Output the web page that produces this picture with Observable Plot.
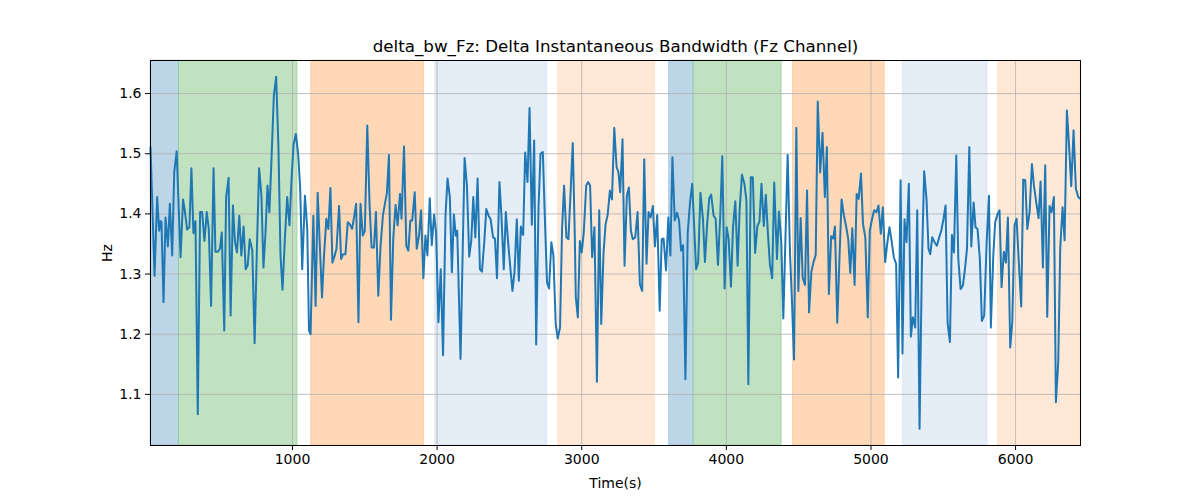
<!DOCTYPE html>
<html>
<head>
<meta charset="utf-8">
<script src="https://cdn.jsdelivr.net/npm/d3@7"></script>
<script src="https://cdn.jsdelivr.net/npm/@observablehq/plot@0.6"></script>
<style>
  html, body { margin: 0; padding: 0; background: #fff; }
  #chart { width: 1200px; height: 500px; }
</style>
</head>
<body>
<div id="chart"></div>
<script>
const titleText = "delta_bw_Fz: Delta Instantaneous Bandwidth (Fz Channel)";
const xLabel = "Time(s)";
const yLabel = "Hz";
const xTicks = [1000, 2000, 3000, 4000, 5000, 6000];
const yTicks = [1.1, 1.2, 1.3, 1.4, 1.5, 1.6];
const xDomain = [18, 6449];
const yDomain = [1.015, 1.655];

const spanStart = [18, 215, 1129, 1986, 2837, 3604, 3775, 4461, 5221, 5878];
const spanEnd   = [215, 1035, 1910, 2761, 3507, 3775, 4383, 5095, 5807, 6449];
const spanColor = ["#bcd6e8", "#c0e2c0", "#ffd9b7", "#e5edf7", "#ffe9d6",
                   "#bcd6e8", "#c0e2c0", "#ffd9b7", "#e5edf7", "#ffe9d6"];
const spanEdge  = ["#1f77b4", "#2ca02c", "#ff7f0e", "#aec7e8", "#ffbb78",
                   "#1f77b4", "#2ca02c", "#ff7f0e", "#aec7e8", "#ffbb78"];

const time = [
18,46,64,78,88,94,108,122,138,152,168,182,199,210,226,243,255,271,287,301,315,329,345,361,375,391,407,421,437,454,
467,484,498,511,528,541,558,572,588,602,616,632,646,662,676,690,704,722,738,755,769,785,799,813,827,840,854,871,887,903,
917,931,947,963,979,993,1007,1023,1040,1053,1067,1086,1102,1114,1125,
1144,1160,1174,1188,1204,1218,1234,1248,1262,1276,1292,1304,1322,1336,1350,1366,1382,1396,1412,1424,1440,1456,1470,1486,1500,
1517,1533,1547,1563,1577,1593,1609,1625,1639,1653,1667,1681,1697,1713,1727,1743,1754,1771,1787,1801,1815,1828,1845,1859,1875,
1889,1905,1919,1933,1949,1963,1979,1993,2009,2025,2041,2058,2072,2088,2102,2116,2129,2139,2162,2178,2190,
2206,2222,2236,2250,2264,2280,2296,2310,2326,2340,2356,2370,2387,2400,2414,2431,2444,2461,2475,2491,2505,2521,2535,2551,2565,
2579,2595,2609,2625,2639,2655,2671,2685,2701,2715,2731,2743,2760,2774,2790,2804,2820,2834,2850,2864,2878,2894,2908,2924,2938,
2952,2959,2973,2987,3000,3014,3031,3044,3058,3072,3088,3105,3121,3135,3151,3165,3179,3195,3209,3225,3241,3254,3266,
3282,3296,3312,3326,3340,3353,3370,3386,3402,3418,3432,3448,3462,3476,3492,3506,3522,3539,3553,3566,3583,3599,3613,3627,3643,
3659,3673,3687,3701,3717,3733,3749,3764,3791,3805,3821,3838,3852,3868,3882,3895,3912,3926,3942,3958,3972,3988,4002,4016,4032,
4046,4062,4078,4092,4108,4125,4139,4152,4169,4183,4199,4215,4229,4243,4259,4273,4287,4301,4317,4331,
4350,4364,4380,4394,4424,4440,4454,4468,4484,4498,4514,4528,4544,4558,4572,4588,4602,4618,4632,4649,4665,4681,4695,4709,4725,
4739,4751,4767,4783,4797,4813,4827,4843,4857,4871,4887,4901,4915,4931,4945,4961,4978,4992,5008,5022,5038,5052,5068,5082,5098,
5114,5128,5144,5158,5174,5188,5205,5218,5232,5246,5262,5276,5290,5306,5320,5336,5352,5368,5384,5398,
5410,5424,5440,5456,5472,5486,5502,5516,5530,5546,5560,5574,5590,5604,5620,5636,5650,5664,5680,5694,5710,5723,5737,5753,5767,
5783,5800,5816,5829,5846,5859,5876,5889,5903,5919,5933,5947,5963,5977,5993,6007,6023,6039,6053,6067,6081,6097,6113,6127,6143,
6159,6173,6189,6205,6219,6235,6249,6265,6279,6295,6309,6325,6339,6355,6369,6385,6401,6417,6433,6447
];

const hz = [
1.511,1.297,1.428,1.372,1.388,1.386,1.253,1.394,1.346,1.417,1.331,1.469,1.504,1.430,1.328,1.424,1.406,1.374,1.378,1.476,1.368,1.388,1.067,1.403,1.403,1.355,1.403,1.375,1.247,1.476,
1.337,1.337,1.342,1.369,1.206,1.428,1.460,1.231,1.414,1.354,1.336,1.397,1.331,1.379,1.308,1.314,1.358,1.339,1.185,1.353,1.476,1.430,1.311,1.367,1.447,1.403,1.486,1.597,1.628,1.508,
1.331,1.274,1.358,1.428,1.381,1.456,1.515,1.533,1.497,1.442,1.308,1.430,1.375,1.206,1.200,
1.397,1.247,1.435,1.353,1.261,1.331,1.392,1.375,1.443,1.319,1.331,1.342,1.413,1.325,1.333,1.333,1.386,1.383,1.375,1.392,1.417,1.220,1.417,1.364,1.372,
1.547,1.414,1.344,1.344,1.403,1.264,1.347,1.397,1.417,1.435,1.498,1.224,1.361,1.415,1.381,1.433,1.392,1.512,1.347,1.339,1.389,1.389,1.436,1.342,1.364,
1.406,1.293,1.364,1.331,1.426,1.348,1.399,1.369,1.220,1.308,1.165,1.397,1.459,1.428,1.303,1.399,1.364,1.372,1.159,1.353,1.493,
1.447,1.329,1.355,1.428,1.361,1.459,1.308,1.304,1.353,1.408,1.397,1.391,1.361,1.359,1.293,1.453,1.400,1.308,1.403,1.353,1.314,1.272,1.303,1.391,1.289,
1.379,1.365,1.502,1.453,1.576,1.382,1.522,1.183,1.409,1.500,1.503,1.408,1.286,1.276,1.353,1.331,1.217,1.193,1.211,1.375,1.447,1.361,1.358,1.442,1.518,
1.364,1.261,1.228,1.355,1.336,1.369,1.447,1.453,1.447,1.328,1.378,1.121,1.406,1.217,1.336,1.383,1.398,1.439,1.424,1.543,1.478,1.469,1.436,
1.524,1.314,1.430,1.444,1.372,1.358,1.361,1.403,1.283,1.272,1.491,1.317,1.403,1.394,1.413,1.346,1.398,1.239,1.358,1.359,1.306,1.394,1.331,1.494,1.389,
1.402,1.389,1.339,1.348,1.125,1.369,1.419,1.450,1.308,1.319,1.435,1.392,1.320,1.386,1.426,1.432,1.397,1.392,1.315,1.397,1.496,1.276,1.378,1.358,1.279,
1.378,1.421,1.314,1.407,1.465,1.450,1.422,1.117,1.461,1.461,1.335,1.380,1.387,1.450,1.380,1.432,1.369,1.317,1.293,1.452,
1.325,1.404,1.353,1.226,1.498,1.336,1.253,1.158,1.543,1.272,1.393,1.293,1.282,1.439,1.236,1.304,1.319,1.332,1.587,1.469,1.535,1.428,1.511,1.267,1.363,
1.359,1.379,1.219,1.331,1.424,1.397,1.381,1.358,1.302,1.376,1.282,1.433,1.425,1.467,1.383,1.361,1.228,1.372,1.392,1.406,1.403,1.414,1.367,1.411,1.320,
1.353,1.378,1.353,1.328,1.317,1.128,1.456,1.168,1.391,1.353,1.450,1.196,1.228,1.211,1.406,1.043,1.314,1.471,1.425,1.342,
1.333,1.361,1.353,1.347,1.361,1.372,1.392,1.414,1.219,1.187,1.365,1.336,1.497,1.325,1.275,1.281,1.308,1.342,1.511,1.346,1.419,1.378,1.375,1.325,1.222,
1.231,1.353,1.430,1.211,1.331,1.386,1.400,1.406,1.278,1.337,1.319,1.394,1.178,1.219,1.381,1.392,1.317,1.246,1.457,1.456,1.375,1.403,1.483,1.447,1.419,
1.393,1.454,1.311,1.481,1.229,1.413,1.403,1.428,1.087,1.153,1.344,1.411,1.356,1.572,1.517,1.446,1.539,1.442,1.428,1.425
];

const series = time.map((t, i) => ({t, v: hz[i]}));
const spans = spanStart.map((s, i) => ({s, e: spanEnd[i], c: spanColor[i], ec: spanEdge[i]}));

const chart = Plot.plot({
  width: 1200,
  height: 500,
  marginLeft: 150,
  marginRight: 120,
  marginTop: 60,
  marginBottom: 55,
  style: {fontFamily: "DejaVu Sans, sans-serif", fontSize: "14px", color: "#000", background: "#fff"},
  x: {domain: xDomain},
  y: {domain: yDomain},
  marks: [
    Plot.rect(spans, {x1: "s", x2: "e", fill: "c", stroke: "ec", strokeOpacity: 0.25, strokeWidth: 1}),
    Plot.gridX(xTicks, {stroke: "#b0b0b0", strokeOpacity: 1, strokeWidth: 0.8}),
    Plot.gridY(yTicks, {stroke: "#b0b0b0", strokeOpacity: 1, strokeWidth: 0.8}),
    Plot.line(series, {x: "t", y: "v", stroke: "#1f77b4", strokeWidth: 2}),
    Plot.frame({stroke: "#000", strokeWidth: 1}),
    Plot.axisX({ticks: xTicks, tickSize: 5, tickPadding: 4, tickFormat: d => String(d),
                label: xLabel, labelAnchor: "center", labelArrow: "none", labelOffset: 42}),
    Plot.axisY({ticks: yTicks, tickSize: 5, tickPadding: 4, tickFormat: d => d.toFixed(1),
                label: yLabel, labelAnchor: "center", labelArrow: "none", labelOffset: 48}),
    Plot.text([titleText], {frameAnchor: "top", dy: -9, fontSize: 16.7, lineAnchor: "bottom", fill: "#000"})
  ]
});
document.getElementById("chart").appendChild(chart);
</script>
</body>
</html>
